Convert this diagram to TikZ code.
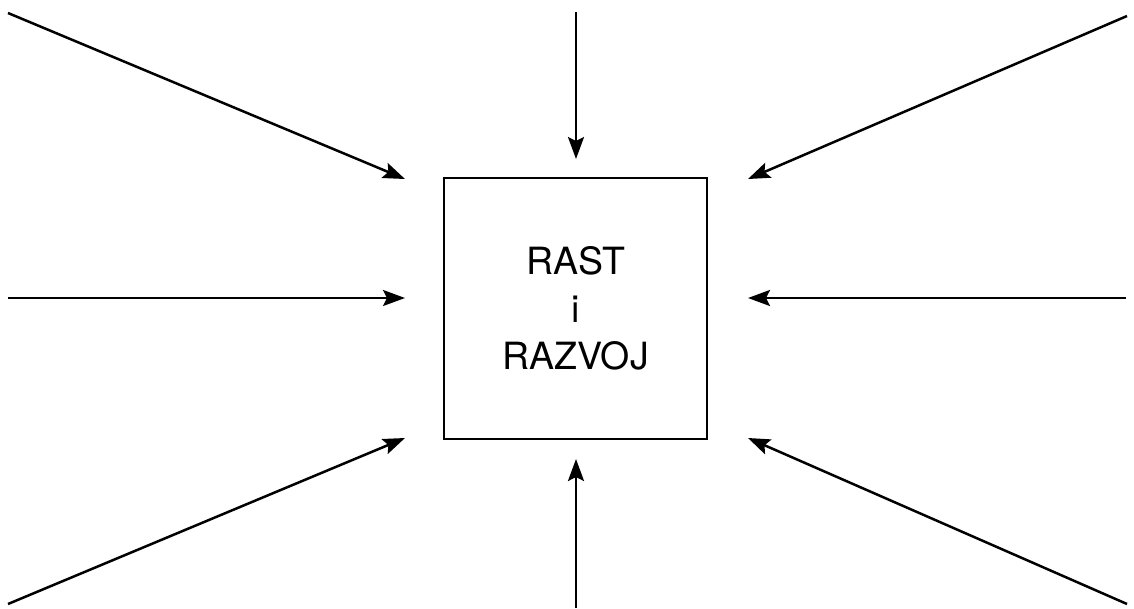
\documentclass[tikz,border=0pt]{standalone}
\usepackage{fontspec}
\setmainfont{TeX Gyre Heros}
\usetikzlibrary{arrows.meta}
\begin{document}
\begin{tikzpicture}[x=1pt,y=-1pt,
  conn/.style={line width=2.5pt,-{Stealth[length=22pt,width=16pt,inset=4pt]}},
  boxnode/.style={draw,line width=2.5pt,minimum width=263pt,minimum height=261pt,inner sep=0pt,
    font=\fontsize{37.5}{47.5}\selectfont,align=center}]
\useasboundingbox (0,0) rectangle (1134,608);
\node[boxnode] (b) at (575.5,308.5) {RAST\\i\\RAZVOJ};
% free ends
\coordinate (s1) at (8,13);     \coordinate (t1) at (405,179);
\coordinate (s2) at (576,12);   \coordinate (t2) at (576,159);
\coordinate (s3) at (1127,16);  \coordinate (t3) at (748,179);
\coordinate (s4) at (8,298);    \coordinate (t4) at (405,298);
\coordinate (s5) at (1126,298); \coordinate (t5) at (748,298);
\coordinate (s6) at (8,604);    \coordinate (t6) at (405,438);
\coordinate (s7) at (576,608);  \coordinate (t7) at (576,459);
\coordinate (s8) at (1127,604); \coordinate (t8) at (748,438);
\foreach \i in {1,...,8} \draw[conn] (s\i) -- (t\i);
\end{tikzpicture}
\end{document}
